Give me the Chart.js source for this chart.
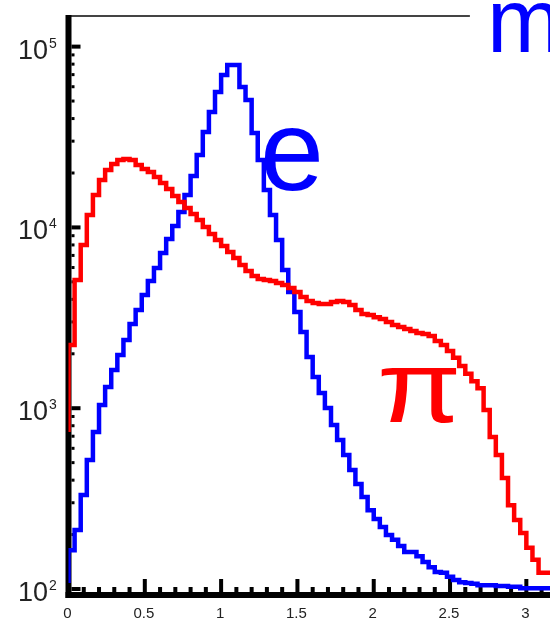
<!DOCTYPE html>
<html>
<head>
<meta charset="utf-8">
<title>e / pi separation</title>
<script src="https://cdn.jsdelivr.net/npm/chart.js@4.4.1/dist/chart.umd.min.js"></script>
<style>
  html, body { margin: 0; padding: 0; background: #fff; }
  canvas { display: block; }
</style>
</head>
<body>
<canvas id="hist" width="550" height="621"></canvas>
<script>
// histogram binning (lower edge of bin k is k * binWidth)
const binWidth = 0.04;

// pion counts per bin
const piCounts = [
  739, 2237, 5119, 7990, 11710, 15110, 18290, 20770, 22420, 23590,
  23890, 23590, 22140, 21040, 20250, 19000, 17610, 16310, 14920, 13820,
  12800, 11860, 10990, 10050, 9190, 8520, 7890, 7310, 6770, 6190,
  5740, 5380, 5180, 5120, 5050, 4930, 4800, 4620, 4390, 4120,
  3920, 3820, 3770, 3770, 3870, 3920, 3870, 3720, 3490, 3320,
  3280, 3190, 3110, 3000, 2890, 2810, 2740, 2670, 2610, 2570,
  2510, 2350, 2240, 2070, 1900, 1710, 1550, 1410, 1290, 977,
  693, 551, 411, 291, 241, 204, 169, 145, 123
];

// electron counts per bin
const eCounts = [
  108, 164, 212, 331, 517, 739, 1041, 1310, 1627, 1969,
  2384, 2922, 3490, 4227, 5050, 5963, 7218, 8627, 10180, 12170,
  15110, 19240, 25140, 33710, 43480, 56100, 69650, 79110, 79110, 59760,
  50650, 33280, 23590, 16100, 11710, 8520, 5812, 4390, 3405, 2640,
  1920, 1488, 1214, 1003, 807, 667, 551, 455, 381, 323,
  273, 244, 220, 199, 187, 173, 160, 160, 152, 141,
  132, 124, 123, 117, 112, 109, 108, 107, 105, 105,
  105, 104, 104, 103, 103, 101, 101, 101, 101
];

// axis ranges
const xRange = [0, 3.155];
const yRange = [92.65, 147700];
const xMajorTicks = [0, 0.5, 1, 1.5, 2, 2.5, 3];
const xTickLabels = ["0", "0.5", "1", "1.5", "2", "2.5", "3"];
const yDecades = [2, 3, 4, 5];
const frameTopEnd = 2.63;

// big particle labels, placed in axis coordinates
const particleLabels = [
  { text: "e", x: 1.255, y: 16100, color: "#0000ff", size: 115, stretch: 1 },
  { text: "\u03c0", x: 2.022, y: 840, color: "#ff0000", size: 102, stretch: 1.2 },
  { text: "m", x: 2.742, y: 93300, color: "#0000ff", size: 90, stretch: 1 }
];

const FONT = '"Liberation Sans", Arial, Helvetica, sans-serif';

const toSteps = (counts) => {
  const pts = counts.map((c, k) => ({ x: k * binWidth, y: c }));
  pts.push({ x: counts.length * binWidth, y: counts[counts.length - 1] });
  return pts;
};

// frame, inward ticks and tick labels (root style)
const frameAndTicks = {
  id: "frameAndTicks",
  beforeDatasetsDraw(chart) {
    const { ctx, chartArea: area } = chart;
    const x = chart.scales.x;
    const y = chart.scales.y;
    ctx.save();

    // top border
    ctx.fillStyle = "#444";
    ctx.fillRect(area.left, area.top - 1, x.getPixelForValue(frameTopEnd) - area.left, 2);

    ctx.fillStyle = "#000";
    // x ticks every 0.1, long ones every 0.5
    for (let i = 1; i * 0.1 <= xRange[1]; i++) {
      const px = x.getPixelForValue(i * 0.1);
      const h = i % 5 === 0 ? 13 : 5;
      ctx.fillRect(px - 2, area.bottom - 3 - h, 4, h);
    }
    // y ticks, decades long, 2..9 short
    yDecades.forEach((e) => {
      for (let m = 1; m <= 9; m++) {
        const v = m * Math.pow(10, e);
        if (v > yRange[1]) break;
        const py = y.getPixelForValue(v);
        if (m === 1) ctx.fillRect(area.left + 3, py - 2, 9, 4);
        else ctx.fillRect(area.left + 3, py - 1.5, 3, 3);
      }
    });

    // axis lines
    ctx.fillRect(area.left - 3, area.top - 1, 6, area.bottom + 4 - area.top);
    ctx.fillRect(area.left - 3, area.bottom - 3, area.right - area.left + 3, 6);

    // labels
    ctx.fillStyle = "#222";
    ctx.textBaseline = "alphabetic";
    ctx.textAlign = "center";
    ctx.font = "15px " + FONT;
    xMajorTicks.forEach((t, i) => {
      ctx.fillText(xTickLabels[i], x.getPixelForValue(t) - 1, 618);
    });

    yDecades.forEach((e) => {
      const py = y.getPixelForValue(Math.pow(10, e));
      ctx.textAlign = "right";
      ctx.font = "27px " + FONT;
      ctx.fillText("10", 48, py + 12);
      ctx.textAlign = "left";
      ctx.font = "14px " + FONT;
      ctx.fillText(String(e), 49, py + 1);
    });
    ctx.restore();
  },
  afterDatasetsDraw(chart) {
    const { ctx } = chart;
    const x = chart.scales.x;
    const y = chart.scales.y;
    ctx.textAlign = "left";
    ctx.textBaseline = "alphabetic";
    particleLabels.forEach((lab) => {
      ctx.save();
      ctx.translate(x.getPixelForValue(lab.x), y.getPixelForValue(lab.y));
      ctx.scale(lab.stretch, 1);
      ctx.fillStyle = lab.color;
      ctx.font = lab.size + "px " + FONT;
      ctx.fillText(lab.text, 0, 0);
      ctx.restore();
    });
  }
};

const histConfig = {
  type: "line",
  data: {
    datasets: [
      {
        label: "pi",
        data: toSteps(piCounts),
        borderColor: "#ff0000",
        borderWidth: 4.5,
        stepped: "after",
        pointRadius: 0,
        fill: false,
        borderJoinStyle: "miter"
      },
      {
        label: "e",
        data: toSteps(eCounts),
        borderColor: "#0000ff",
        borderWidth: 4.5,
        stepped: "after",
        pointRadius: 0,
        fill: false,
        borderJoinStyle: "miter"
      }
    ]
  },
  options: {
    responsive: false,
    animation: false,
    layout: {
      padding: { left: 68.5, right: 0, top: 16, bottom: 26 }
    },
    plugins: {
      legend: { display: false },
      tooltip: { enabled: false }
    },
    scales: {
      x: { type: "linear", min: xRange[0], max: xRange[1], display: false },
      y: { type: "logarithmic", min: yRange[0], max: yRange[1], display: false }
    }
  },
  plugins: [frameAndTicks]
};

new Chart(document.getElementById("hist").getContext("2d"), histConfig);
</script>
</body>
</html>
